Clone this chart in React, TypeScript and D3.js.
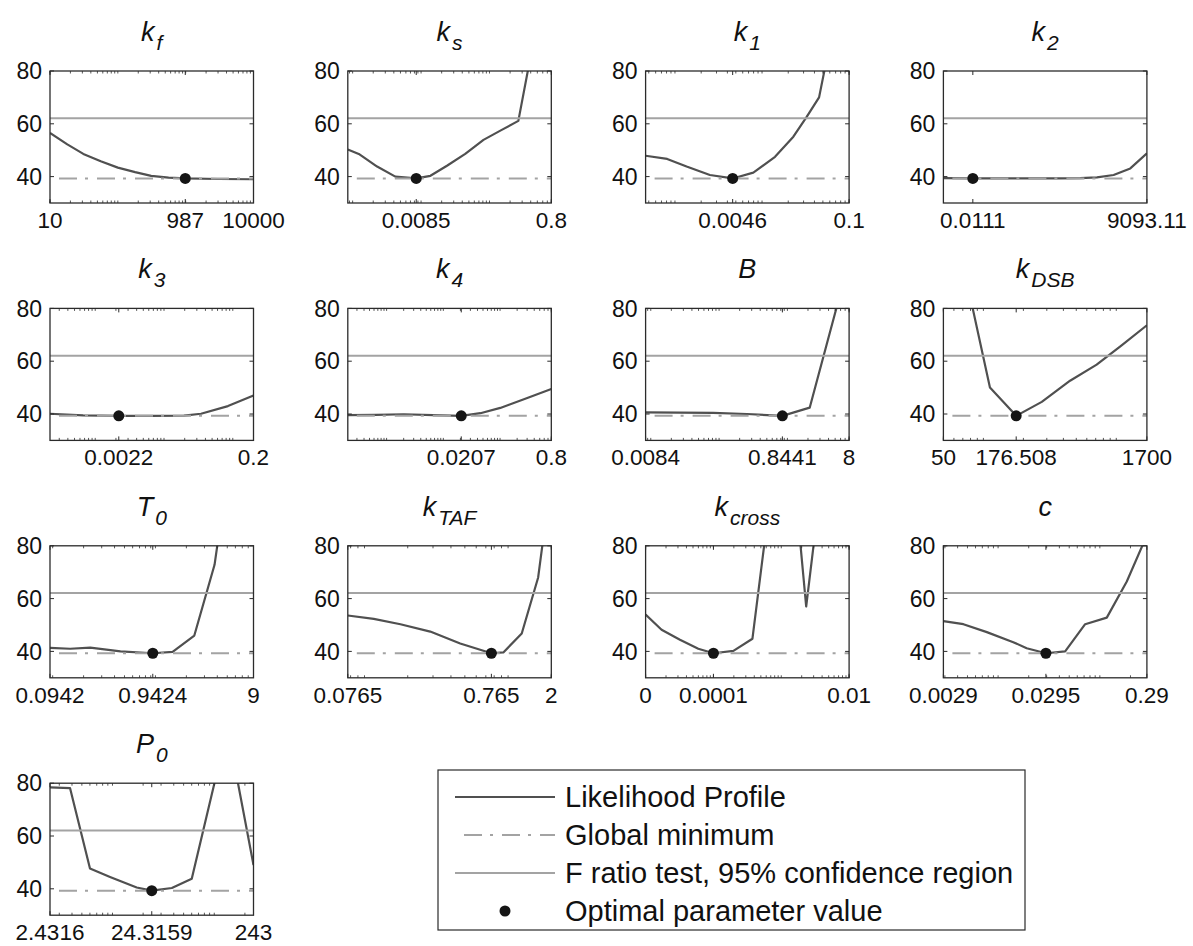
import * as d3 from 'd3';

const GLOBAL_MIN = 39.3;
const F_THRESHOLD = 62.1;
const yDomain = [30, 80];
const yTicks = [40, 60, 80];

// k_f
const kfX = [10, 18, 31, 56, 100, 180, 310, 560, 987, 3000, 10000];
const kfY = [56.5, 52.2, 48.6, 45.8, 43.4, 41.7, 40.3, 39.6, 39.3, 39.1, 39.0];
const kfTicks = [10, 987, 10000];
const kfLabels = ['10', '987', '10000'];

// k_s
const ksX = [0.00085, 0.00123, 0.00228, 0.00421, 0.0085, 0.0137, 0.0239, 0.0442, 0.0817, 0.151, 0.264, 0.8];
const ksY = [50.3, 48.6, 43.8, 40.0, 39.3, 40.3, 44.1, 48.6, 53.9, 57.7, 61.1, 127];
const ksTicks = [0.0085, 0.8];
const ksLabels = ['0.0085', '0.8'];

// k_1
const k1X = [0.00046, 0.000814, 0.00136, 0.00252, 0.0046, 0.00794, 0.0141, 0.0229, 0.0327, 0.0452, 0.1];
const k1Y = [47.9, 46.7, 43.8, 40.6, 39.3, 41.5, 47.5, 55.1, 62.7, 70.0, 127];
const k1Ticks = [0.0046, 0.1];
const k1Labels = ['0.0046', '0.1'];

// k_2
const k2X = [0.00111, 0.0111, 0.111, 1.11, 11.1, 49.5, 183, 672, 2483, 9093.11];
const k2Y = [39.4, 39.3, 39.3, 39.3, 39.35, 39.4, 39.7, 40.6, 43.1, 48.8];
const k2Ticks = [0.0111, 9093.11];
const k2Labels = ['0.0111', '9093.11'];

// k_3
const k3X = [0.00022, 0.000668, 0.0022, 0.0064, 0.0195, 0.0345, 0.085, 0.2];
const k3Y = [40.1, 39.5, 39.3, 39.3, 39.4, 40.1, 43.0, 47.0];
const k3Ticks = [0.0022, 0.2];
const k3Labels = ['0.0022', '0.2'];

// k_4
const k4X = [0.000207, 0.00065, 0.002, 0.0065, 0.0207, 0.045, 0.101, 0.278, 0.8];
const k4Y = [39.6, 39.7, 39.9, 39.6, 39.3, 40.3, 42.3, 45.8, 49.5];
const k4Ticks = [0.0207, 0.8];
const k4Labels = ['0.0207', '0.8'];

// B
const bX = [0.0084, 0.082, 0.256, 0.8441, 2.12, 8];
const bY = [40.6, 40.4, 40.0, 39.3, 42.4, 98];
const bTicks = [0.0084, 0.8441, 8];
const bLabels = ['0.0084', '0.8441', '8'];

// k_DSB
const kdsbX = [50, 112, 176.508, 275, 449, 712, 1097, 1700];
const kdsbY = [131, 50.0, 39.3, 44.6, 52.6, 58.7, 66.0, 73.6];
const kdsbTicks = [50, 176.508, 1700];
const kdsbLabels = ['50', '176.508', '1700'];

// T_0
const t0X = [0.0942, 0.148, 0.232, 0.457, 0.9424, 1.47, 2.39, 3.76, 9];
const t0Y = [41.3, 41.0, 41.4, 40.0, 39.3, 39.8, 46.0, 72.8, 176];
const t0Ticks = [0.0942, 0.9424, 9];
const t0Labels = ['0.0942', '0.9424', '9'];

// k_TAF
const ktafX = [0.0765, 0.116, 0.178, 0.287, 0.464, 0.765, 0.927, 1.245, 1.62, 2];
const ktafY = [53.6, 52.3, 50.3, 47.5, 43.0, 39.3, 39.6, 46.8, 68.0, 106];
const ktafTicks = [0.0765, 0.765, 2];
const ktafLabels = ['0.0765', '0.765', '2'];

// k_cross
const kcrossX = [1e-5, 1.72e-5, 3.21e-5, 5.98e-5, 1e-4, 1.97e-4, 3.76e-4, 7e-4, 1.5e-3, 2.33e-3, 3.71e-3, 6e-3, 0.01];
const kcrossY = [54.0, 48.2, 44.4, 41.0, 39.3, 40.2, 44.8, 100, 110, 57, 100, 115, 120];
const kcrossTicks = [1e-5, 1e-4, 0.01];
const kcrossLabels = ['0', '0.0001', '0.01'];

// c
const cX = [0.0029, 0.00456, 0.00775, 0.0141, 0.0191, 0.0295, 0.0456, 0.0717, 0.117, 0.184, 0.29];
const cY = [51.5, 50.3, 47.3, 43.5, 41.2, 39.3, 40.0, 50.3, 52.8, 66.5, 84];
const cTicks = [0.0029, 0.0295, 0.29];
const cLabels = ['0.0029', '0.0295', '0.29'];

// P_0
const p0X = [2.4316, 3.83, 6.01, 9.46, 17.3, 24.3159, 38.3, 60.1, 135, 243];
const p0Y = [78.4, 78.1, 47.7, 44.5, 40.5, 39.3, 40.3, 43.8, 100.9, 49];
const p0Ticks = [2.4316, 24.3159, 243];
const p0Labels = ['2.4316', '24.3159', '243'];

const legendLabels = ['Likelihood Profile', 'Global minimum', 'F ratio test, 95% confidence region', 'Optimal parameter value'];

const panels = [
  { name: 'k', sub: 'f', xs: kfX, ys: kfY, domain: [10, 10000], ticks: kfTicks, labels: kfLabels, opt: 987 },
  { name: 'k', sub: 's', xs: ksX, ys: ksY, domain: [0.00085, 0.8], ticks: ksTicks, labels: ksLabels, opt: 0.0085 },
  { name: 'k', sub: '1', xs: k1X, ys: k1Y, domain: [0.00046, 0.1], ticks: k1Ticks, labels: k1Labels, opt: 0.0046 },
  { name: 'k', sub: '2', xs: k2X, ys: k2Y, domain: [0.00111, 9093.11], ticks: k2Ticks, labels: k2Labels, opt: 0.0111 },
  { name: 'k', sub: '3', xs: k3X, ys: k3Y, domain: [0.00022, 0.2], ticks: k3Ticks, labels: k3Labels, opt: 0.0022 },
  { name: 'k', sub: '4', xs: k4X, ys: k4Y, domain: [0.000207, 0.8], ticks: k4Ticks, labels: k4Labels, opt: 0.0207 },
  { name: 'B', sub: '', xs: bX, ys: bY, domain: [0.0084, 8], ticks: bTicks, labels: bLabels, opt: 0.8441 },
  { name: 'k', sub: 'DSB', xs: kdsbX, ys: kdsbY, domain: [50, 1700], ticks: kdsbTicks, labels: kdsbLabels, opt: 176.508 },
  { name: 'T', sub: '0', xs: t0X, ys: t0Y, domain: [0.0942, 9], ticks: t0Ticks, labels: t0Labels, opt: 0.9424 },
  { name: 'k', sub: 'TAF', xs: ktafX, ys: ktafY, domain: [0.0765, 2], ticks: ktafTicks, labels: ktafLabels, opt: 0.765 },
  { name: 'k', sub: 'cross', xs: kcrossX, ys: kcrossY, domain: [1e-5, 0.01], ticks: kcrossTicks, labels: kcrossLabels, opt: 1e-4 },
  { name: 'c', sub: '', xs: cX, ys: cY, domain: [0.0029, 0.29], ticks: cTicks, labels: cLabels, opt: 0.0295 },
  { name: 'P', sub: '0', xs: p0X, ys: p0Y, domain: [2.4316, 243], ticks: p0Ticks, labels: p0Labels, opt: 24.3159 },
];

const FONT = '"Liberation Sans", Arial, sans-serif';
const PLOT_W = 203.5;
const PLOT_H = 132;
const COL0 = 50;
const COL_STEP = 297.8;
const ROW0 = 71;
const ROW_STEP = 237.4;

const PROFILE = '#505050';
const REF_GRAY = '#a3a3a3';
const AXIS = '#2b2b2b';
const DASH = '18,8,3,9';

function Panel({ p, idx }: { p: (typeof panels)[number]; idx: number }) {
  const col = idx % 4;
  const row = Math.floor(idx / 4);
  const left = COL0 + col * COL_STEP;
  const top = ROW0 + row * ROW_STEP;

  const x = d3.scaleLog().domain(p.domain).range([0, PLOT_W]);
  const y = d3.scaleLinear().domain(yDomain).range([PLOT_H, 0]);

  const line = d3
    .line<number>()
    .x((_, i) => x(p.xs[i]))
    .y((d) => y(d));

  const decades = Math.log10(p.domain[1] / p.domain[0]);
  const minor = decades < 4 ? x.ticks().filter((t) => t >= p.domain[0] && t <= p.domain[1]) : [];
  const clipId = `clip-${idx}`;

  return (
    <g transform={`translate(${left},${top})`}>
      <defs>
        <clipPath id={clipId}>
          <rect x={0} y={0} width={PLOT_W} height={PLOT_H} />
        </clipPath>
      </defs>
      <text x={PLOT_W / 2} y={-30} textAnchor="middle" fontFamily={FONT} fontStyle="italic" fontSize={27} fill="#111">
        {p.name}
        {p.sub && (
          <tspan fontSize={21} dy={9} dx={2}>
            {p.sub}
          </tspan>
        )}
      </text>

      <g clipPath={`url(#${clipId})`}>
        <path d={line(p.ys) ?? ''} fill="none" stroke={PROFILE} strokeWidth={2.2} strokeLinejoin="round" />
        <line x1={0} x2={PLOT_W} y1={y(GLOBAL_MIN)} y2={y(GLOBAL_MIN)} stroke={REF_GRAY} strokeWidth={2} strokeDasharray={DASH} strokeDashoffset={29} />
        <line x1={0} x2={PLOT_W} y1={y(F_THRESHOLD)} y2={y(F_THRESHOLD)} stroke={REF_GRAY} strokeWidth={2} />
      </g>
      <circle cx={x(p.opt)} cy={y(GLOBAL_MIN)} r={5.5} fill="#151515" />

      {minor.map((t, i) => (
        <g key={`m${i}`} stroke={AXIS} strokeWidth={0.8}>
          <line x1={x(t)} x2={x(t)} y1={PLOT_H} y2={PLOT_H - 2.5} />
          <line x1={x(t)} x2={x(t)} y1={0} y2={2.5} />
        </g>
      ))}
      {p.ticks.map((t, i) => (
        <g key={`t${i}`}>
          <line x1={x(t)} x2={x(t)} y1={PLOT_H} y2={PLOT_H - 4} stroke={AXIS} strokeWidth={1} />
          <line x1={x(t)} x2={x(t)} y1={0} y2={4} stroke={AXIS} strokeWidth={1} />
          <text x={x(t)} y={PLOT_H + 25} textAnchor="middle" fontFamily={FONT} fontSize={22.5} fill="#111">
            {p.labels[i]}
          </text>
        </g>
      ))}
      {yTicks.map((t) => (
        <g key={`y${t}`}>
          <line x1={0} x2={4} y1={y(t)} y2={y(t)} stroke={AXIS} strokeWidth={1} />
          <line x1={PLOT_W} x2={PLOT_W - 4} y1={y(t)} y2={y(t)} stroke={AXIS} strokeWidth={1} />
          <text x={-8} y={y(t)} dy="0.36em" textAnchor="end" fontFamily={FONT} fontSize={23} fill="#111">
            {t}
          </text>
        </g>
      ))}
      <rect x={0} y={0} width={PLOT_W} height={PLOT_H} fill="none" stroke={AXIS} strokeWidth={1.3} />
    </g>
  );
}

function Legend() {
  const lx = 438;
  const ly = 770;
  const w = 587;
  const h = 160;
  const rowY = (i: number) => ly + 27 + i * 38;
  const s0 = lx + 17;
  const s1 = lx + 117;
  return (
    <g>
      <rect x={lx} y={ly} width={w} height={h} fill="#fff" stroke={AXIS} strokeWidth={1.2} />
      <line x1={s0} x2={s1} y1={rowY(0)} y2={rowY(0)} stroke={PROFILE} strokeWidth={2.2} />
      <line x1={s0} x2={s1} y1={rowY(1)} y2={rowY(1)} stroke={REF_GRAY} strokeWidth={2} strokeDasharray={DASH} strokeDashoffset={29} />
      <line x1={s0} x2={s1} y1={rowY(2)} y2={rowY(2)} stroke={REF_GRAY} strokeWidth={2} />
      <circle cx={(s0 + s1) / 2} cy={rowY(3)} r={5.5} fill="#151515" />
      {legendLabels.map((l, i) => (
        <text key={l} x={s1 + 10} y={rowY(i)} dy="0.36em" fontFamily={FONT} fontSize={29} fill="#111">
          {l}
        </text>
      ))}
    </g>
  );
}

export default function App() {
  return (
    <svg width={1193} height={946} style={{ position: 'absolute', left: 0, top: 0, background: '#fff' }}>
      {panels.map((p, i) => (
        <Panel key={i} p={p} idx={i} />
      ))}
      <Legend />
    </svg>
  );
}
